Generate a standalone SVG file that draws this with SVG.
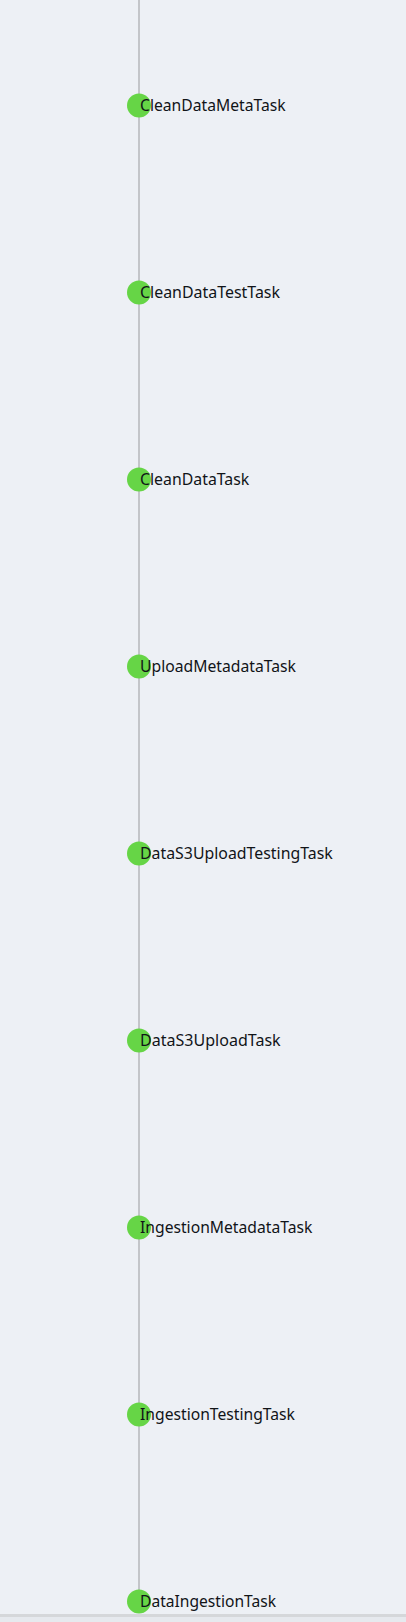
<svg xmlns="http://www.w3.org/2000/svg" width="406" height="1622" viewBox="0 0 406 1622">
<style>
.dot{fill:#66d546}
.lbl{font-family:"Noto Sans","Open Sans","Liberation Sans",sans-serif;font-size:16px;fill:#111418}
.edge{stroke:#c3c5c9;stroke-width:2;fill:none}
</style>
<rect x="0" y="0" width="406" height="1622" fill="#edf0f5"/>
<rect x="0" y="1614" width="406" height="3" fill="#d5d7da"/>
<rect x="0" y="1617" width="406" height="5" fill="#e6e9ee"/>
<g id="connectors">
<line class="edge" x1="139" y1="0" x2="139" y2="1602"/>
</g>
<g id="n1"><circle class="dot" cx="139" cy="105.5" r="12"/><text class="lbl" x="140" y="111" textLength="145.7" lengthAdjust="spacingAndGlyphs">CleanDataMetaTask</text></g>
<g id="n2"><circle class="dot" cx="139" cy="292.5" r="12"/><text class="lbl" x="140" y="298" textLength="140" lengthAdjust="spacingAndGlyphs">CleanDataTestTask</text></g>
<g id="n3"><circle class="dot" cx="139" cy="479.5" r="12"/><text class="lbl" x="140" y="485" textLength="109.3" lengthAdjust="spacingAndGlyphs">CleanDataTask</text></g>
<g id="n4"><circle class="dot" cx="139" cy="666.5" r="12"/><text class="lbl" x="140" y="672" textLength="156" lengthAdjust="spacingAndGlyphs">UploadMetadataTask</text></g>
<g id="n5"><circle class="dot" cx="139" cy="853.5" r="12"/><text class="lbl" x="140" y="859" textLength="192.7" lengthAdjust="spacingAndGlyphs">DataS3UploadTestingTask</text></g>
<g id="n6"><circle class="dot" cx="139" cy="1040.5" r="12"/><text class="lbl" x="140" y="1046" textLength="140.7" lengthAdjust="spacingAndGlyphs">DataS3UploadTask</text></g>
<g id="n7"><circle class="dot" cx="139" cy="1227.5" r="12"/><text class="lbl" x="140" y="1233" textLength="172.3" lengthAdjust="spacingAndGlyphs">IngestionMetadataTask</text></g>
<g id="n8"><circle class="dot" cx="139" cy="1414.5" r="12"/><text class="lbl" x="140" y="1420" textLength="155" lengthAdjust="spacingAndGlyphs">IngestionTestingTask</text></g>
<g id="n9"><circle class="dot" cx="139" cy="1601.5" r="12"/><text class="lbl" x="140" y="1607" textLength="136" lengthAdjust="spacingAndGlyphs">DataIngestionTask</text></g>
</svg>
